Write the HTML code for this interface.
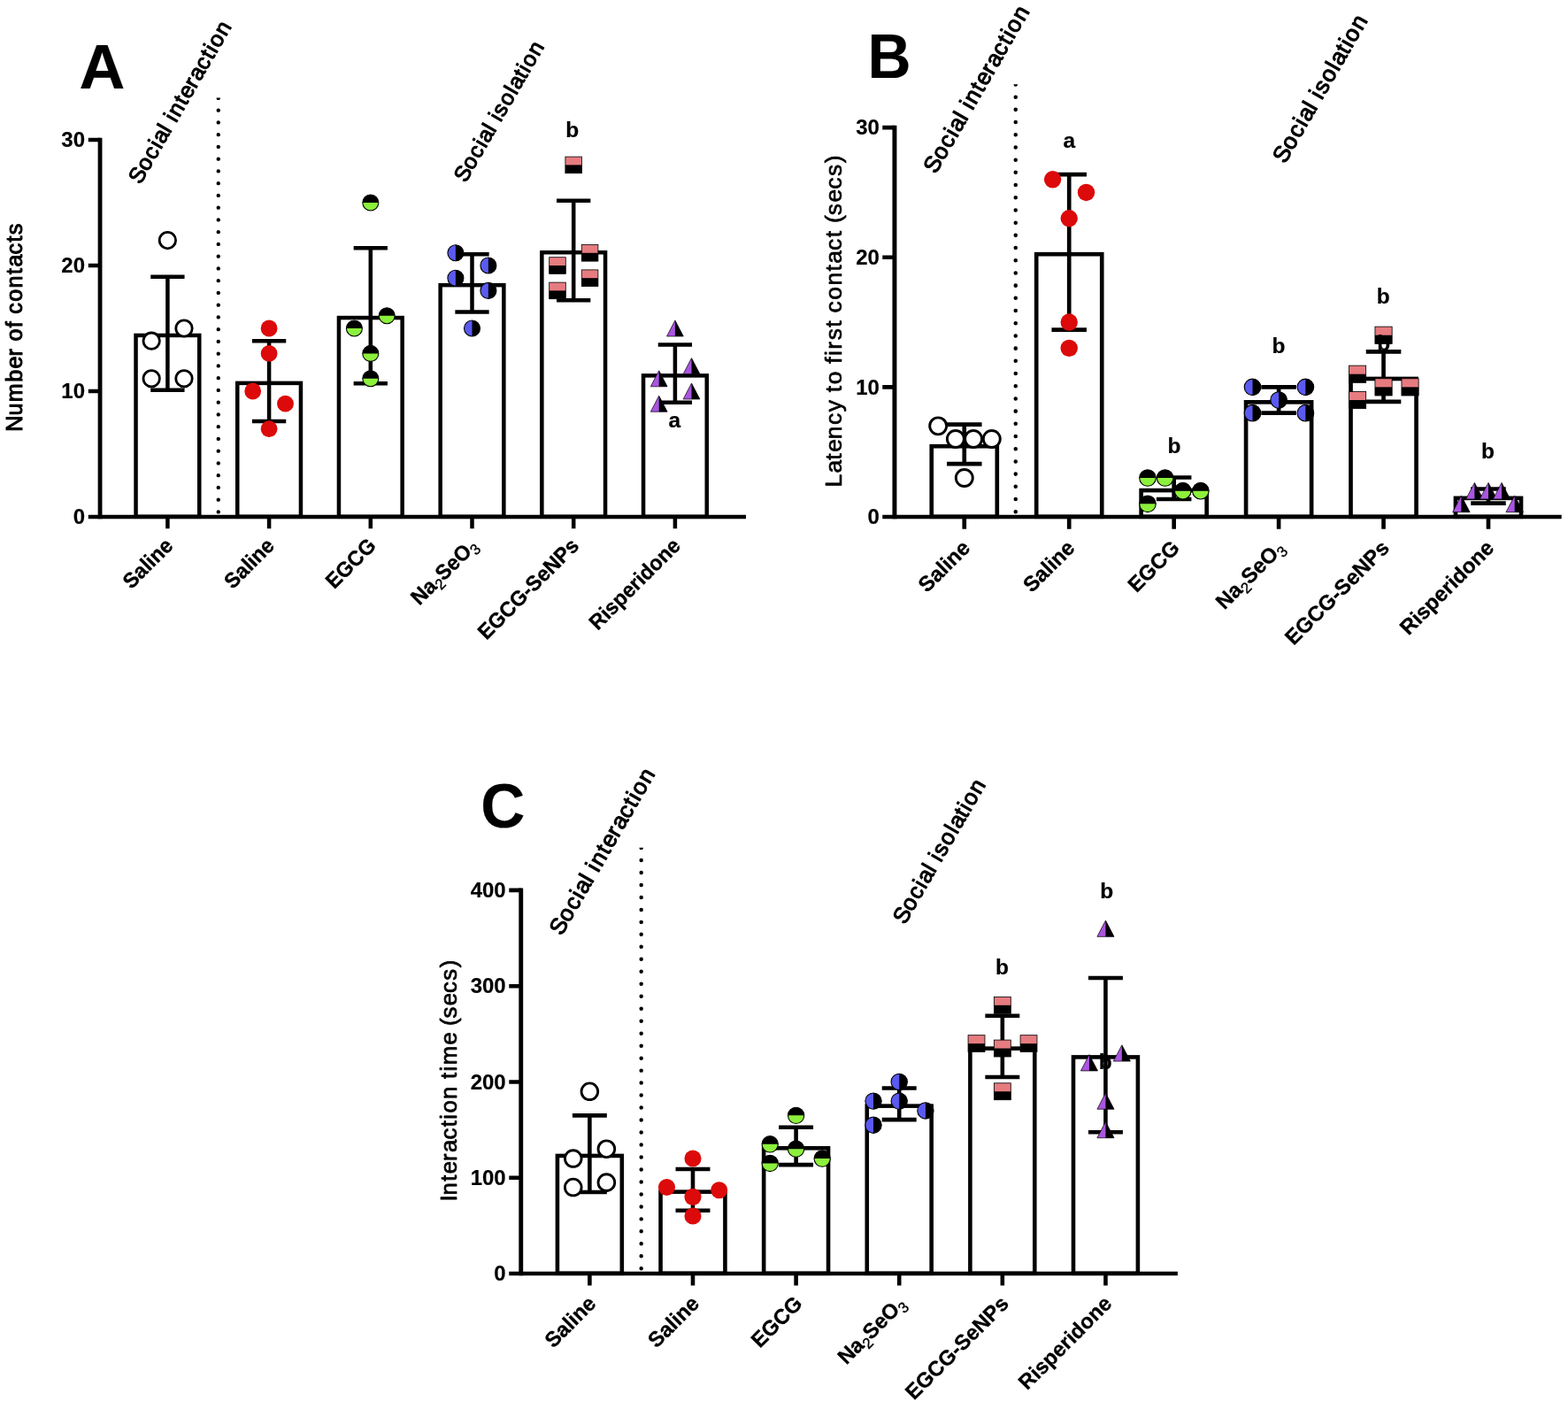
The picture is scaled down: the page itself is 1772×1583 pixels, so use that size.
<!DOCTYPE html>
<html lang="en"><head><meta charset="utf-8"><title>Figure</title>
<style>
html,body{margin:0;padding:0;background:#fff}
svg{display:block}
text{font-family:"Liberation Sans", Arial, Helvetica, sans-serif;fill:#000}
.b{font-weight:700;stroke:#000;stroke-width:0.2px}
.cat{stroke-width:0.35px}
.ttl{font-weight:400;stroke:#000;stroke-linejoin:round;font-kerning:none}
.sub{font-weight:400;font-size:17px}
</style></head>
<body>
<svg width="1772" height="1583" viewBox="0 0 1772 1583">
<defs><clipPath id="dc"><rect x="0" y="-473.4" width="300" height="480"/></clipPath></defs>
<rect width="1772" height="1583" fill="#fff"/>
<g transform="translate(113.2 584) scale(1)">
<path d="M133.55 -5.6V-476" stroke="#000" stroke-width="4.4" stroke-linecap="round" stroke-dasharray="0.01 13.74" clip-path="url(#dc)" fill="none"/>
<rect x="40.35" y="-205.07" width="71.7" height="204.87" fill="#fff" stroke="#000" stroke-width="4.5"/>
<rect x="155.05" y="-151.11" width="71.7" height="150.91" fill="#fff" stroke="#000" stroke-width="4.5"/>
<rect x="269.75" y="-224.95" width="71.7" height="224.75" fill="#fff" stroke="#000" stroke-width="4.5"/>
<rect x="384.45" y="-261.87" width="71.7" height="261.67" fill="#fff" stroke="#000" stroke-width="4.5"/>
<rect x="499.15" y="-298.79" width="71.7" height="298.59" fill="#fff" stroke="#000" stroke-width="4.5"/>
<rect x="613.85" y="-159.63" width="71.7" height="159.43" fill="#fff" stroke="#000" stroke-width="4.5"/>
<path d="M-13.4 0H729.8" stroke="#000" stroke-width="4.5" fill="none"/>
<path d="M-0.15 2.25V-428.25" stroke="#000" stroke-width="4.8" fill="none"/>
<path d="M-13.4 -142H0M-13.4 -284H0M-13.4 -426H0M76.2 0V13.3M190.9 0V13.3M305.6 0V13.3M420.3 0V13.3M535 0V13.3M649.7 0V13.3" stroke="#000" stroke-width="4.5" fill="none"/>
<path d="M76.2 -271.3V-143.34M57.05 -271.3h38.3M57.05 -143.34h38.3" stroke="#000" stroke-width="4.5" fill="none"/>
<path d="M190.9 -198.71V-108.01M171.75 -198.71h38.3M171.75 -108.01h38.3" stroke="#000" stroke-width="4.5" fill="none"/>
<path d="M305.6 -303.67V-150.73M286.45 -303.67h38.3M286.45 -150.73h38.3" stroke="#000" stroke-width="4.5" fill="none"/>
<path d="M420.3 -296.81V-231.43M401.15 -296.81h38.3M401.15 -231.43h38.3" stroke="#000" stroke-width="4.5" fill="none"/>
<path d="M535 -357.3V-244.78M515.85 -357.3h38.3M515.85 -244.78h38.3" stroke="#000" stroke-width="4.5" fill="none"/>
<path d="M649.7 -194.57V-129.19M630.55 -194.57h38.3M630.55 -129.19h38.3" stroke="#000" stroke-width="4.5" fill="none"/>
<circle cx="76.2" cy="-312.4" r="9.2" fill="#fff" stroke="#000" stroke-width="2.8"/>
<circle cx="94.8" cy="-213" r="9.2" fill="#fff" stroke="#000" stroke-width="2.8"/>
<circle cx="58" cy="-198.8" r="9.2" fill="#fff" stroke="#000" stroke-width="2.8"/>
<circle cx="58" cy="-156.2" r="9.2" fill="#fff" stroke="#000" stroke-width="2.8"/>
<circle cx="94.8" cy="-156.2" r="9.2" fill="#fff" stroke="#000" stroke-width="2.8"/>
<circle cx="190.9" cy="-213" r="9.4" fill="#dc0a0a"/>
<circle cx="190.9" cy="-184.6" r="9.4" fill="#dc0a0a"/>
<circle cx="172.5" cy="-142" r="9.4" fill="#dc0a0a"/>
<circle cx="209.3" cy="-127.8" r="9.4" fill="#dc0a0a"/>
<circle cx="190.9" cy="-99.4" r="9.4" fill="#dc0a0a"/>
<circle cx="305.6" cy="-355" r="9" fill="#8cf03c" stroke="#000" stroke-width="1.1"/><path d="M296.6 -355A9 9 0 0 1 314.6 -355Z" fill="#000"/>
<circle cx="324" cy="-227.2" r="9" fill="#8cf03c" stroke="#000" stroke-width="1.1"/><path d="M315 -227.2A9 9 0 0 1 333 -227.2Z" fill="#000"/>
<circle cx="287.2" cy="-213" r="9" fill="#8cf03c" stroke="#000" stroke-width="1.1"/><path d="M278.2 -213A9 9 0 0 1 296.2 -213Z" fill="#000"/>
<circle cx="305.6" cy="-184.6" r="9" fill="#8cf03c" stroke="#000" stroke-width="1.1"/><path d="M296.6 -184.6A9 9 0 0 1 314.6 -184.6Z" fill="#000"/>
<circle cx="305.6" cy="-156.2" r="9" fill="#8cf03c" stroke="#000" stroke-width="1.1"/><path d="M296.6 -156.2A9 9 0 0 1 314.6 -156.2Z" fill="#000"/>
<circle cx="401.7" cy="-298.2" r="9" fill="#5a5af0" stroke="#000" stroke-width="1.1"/><path d="M401.7 -307.2A9 9 0 0 1 401.7 -289.2Z" fill="#000"/>
<circle cx="438.7" cy="-284" r="9" fill="#5a5af0" stroke="#000" stroke-width="1.1"/><path d="M438.7 -293A9 9 0 0 1 438.7 -275Z" fill="#000"/>
<circle cx="401.7" cy="-269.8" r="9" fill="#5a5af0" stroke="#000" stroke-width="1.1"/><path d="M401.7 -278.8A9 9 0 0 1 401.7 -260.8Z" fill="#000"/>
<circle cx="438.7" cy="-255.6" r="9" fill="#5a5af0" stroke="#000" stroke-width="1.1"/><path d="M438.7 -264.6A9 9 0 0 1 438.7 -246.6Z" fill="#000"/>
<circle cx="420.3" cy="-213" r="9" fill="#5a5af0" stroke="#000" stroke-width="1.1"/><path d="M420.3 -222A9 9 0 0 1 420.3 -204Z" fill="#000"/>
<rect x="525.7" y="-406.9" width="18.6" height="18.6" fill="#e67c80" stroke="#000" stroke-width="0.8"/><rect x="525.7" y="-397.6" width="18.6" height="9.3" fill="#000"/>
<rect x="544.1" y="-307.5" width="18.6" height="18.6" fill="#e67c80" stroke="#000" stroke-width="0.8"/><rect x="544.1" y="-298.2" width="18.6" height="9.3" fill="#000"/>
<rect x="507.5" y="-293.3" width="18.6" height="18.6" fill="#e67c80" stroke="#000" stroke-width="0.8"/><rect x="507.5" y="-284" width="18.6" height="9.3" fill="#000"/>
<rect x="544.1" y="-279.1" width="18.6" height="18.6" fill="#e67c80" stroke="#000" stroke-width="0.8"/><rect x="544.1" y="-269.8" width="18.6" height="9.3" fill="#000"/>
<rect x="507.5" y="-264.9" width="18.6" height="18.6" fill="#e67c80" stroke="#000" stroke-width="0.8"/><rect x="507.5" y="-255.6" width="18.6" height="9.3" fill="#000"/>
<path d="M649.7 -222L659.1 -204L640.3 -204Z" fill="#aa55e0" stroke="#000" stroke-width="0.7" stroke-linejoin="miter"/><path d="M649.7 -222L659.1 -204L649.7 -204Z" fill="#000"/>
<path d="M668.3 -179.4L677.7 -161.4L658.9 -161.4Z" fill="#aa55e0" stroke="#000" stroke-width="0.7" stroke-linejoin="miter"/><path d="M668.3 -179.4L677.7 -161.4L668.3 -161.4Z" fill="#000"/>
<path d="M631.5 -165.2L640.9 -147.2L622.1 -147.2Z" fill="#aa55e0" stroke="#000" stroke-width="0.7" stroke-linejoin="miter"/><path d="M631.5 -165.2L640.9 -147.2L631.5 -147.2Z" fill="#000"/>
<path d="M668.3 -151L677.7 -133L658.9 -133Z" fill="#aa55e0" stroke="#000" stroke-width="0.7" stroke-linejoin="miter"/><path d="M668.3 -151L677.7 -133L668.3 -133Z" fill="#000"/>
<path d="M631.5 -136.8L640.9 -118.8L622.1 -118.8Z" fill="#aa55e0" stroke="#000" stroke-width="0.7" stroke-linejoin="miter"/><path d="M631.5 -136.8L640.9 -118.8L631.5 -118.8Z" fill="#000"/>
</g>
<text class="b" transform="translate(96 592.3) scale(0.975 1)" font-size="24.6" text-anchor="end">0</text>
<text class="b" transform="translate(96 450.3) scale(0.975 1)" font-size="24.6" text-anchor="end">10</text>
<text class="b" transform="translate(96 308.3) scale(0.975 1)" font-size="24.6" text-anchor="end">20</text>
<text class="b" transform="translate(96 166.3) scale(0.975 1)" font-size="24.6" text-anchor="end">30</text>
<text class="ttl" transform="translate(24.8 370.2) rotate(-90)" font-size="25.2" text-anchor="middle" stroke-width="1" dx="0 0 1.38 1.42 1.38 0 1.42 0 1.38 1.39 0 1.42 1.38 1.38 1.39 0 1.42 1.39">Number of contacts</text>
<text class="b cat" transform="translate(196.8 618) rotate(-45) scale(0.968 1)" font-size="24" text-anchor="end">Saline</text>
<text class="b cat" transform="translate(311.5 618) rotate(-45) scale(0.968 1)" font-size="24" text-anchor="end">Saline</text>
<text class="b cat" transform="translate(426.2 618) rotate(-45) scale(0.968 1)" font-size="24" text-anchor="end">EGCG</text>
<text class="b cat" transform="translate(540.9 618) rotate(-45) scale(0.968 1)" font-size="24" text-anchor="end">Na<tspan class="sub" dy="5">2</tspan><tspan dy="-5">SeO</tspan><tspan class="sub" dy="5">3</tspan></text>
<text class="b cat" transform="translate(655.6 618) rotate(-45) scale(0.968 1)" font-size="24" text-anchor="end">EGCG-SeNPs</text>
<text class="b cat" transform="translate(770.3 618) rotate(-45) scale(0.968 1)" font-size="24" text-anchor="end">Risperidone</text>
<text class="ttl" transform="translate(158.7 209.3) rotate(-60)" font-size="25.0" stroke-width="1.1" dx="0 0 1.37 1.4 1.39 0 1.39 0 1.39 1.37 1.38 0 1.4 0 1.4 1.38 1.39 1.37">Social interaction</text>
<text class="ttl" transform="translate(526.2 207.3) rotate(-60)" font-size="24.5" stroke-width="1.1" dx="0 0 1.34 1.38 1.36 0 1.36 0 1.36 1.38 1.34 1.36 0 1.35 1.36 1.34">Social isolation</text>
<text class="b" x="646.7" y="154.8" font-size="24.5" text-anchor="middle">b</text>
<text class="b" x="762.4" y="483" font-size="24.5" text-anchor="middle">a</text>
<text class="b" x="89.5" y="99.8" font-size="70" textLength="51.8" lengthAdjust="spacingAndGlyphs">A</text>
<g transform="translate(1011.1 584) scale(1.0326)">
<path d="M132.35 -5.6V-476" stroke="#000" stroke-width="4.4" stroke-linecap="round" stroke-dasharray="0.01 13.74" clip-path="url(#dc)" fill="none"/>
<rect x="40.35" y="-77.27" width="71.7" height="77.07" fill="#fff" stroke="#000" stroke-width="4.5"/>
<rect x="155.05" y="-287.43" width="71.7" height="287.23" fill="#fff" stroke="#000" stroke-width="4.5"/>
<rect x="269.75" y="-28.99" width="71.7" height="28.79" fill="#fff" stroke="#000" stroke-width="4.5"/>
<rect x="384.45" y="-125.55" width="71.7" height="125.35" fill="#fff" stroke="#000" stroke-width="4.5"/>
<rect x="499.15" y="-151.11" width="71.7" height="150.91" fill="#fff" stroke="#000" stroke-width="4.5"/>
<rect x="613.85" y="-20.47" width="71.7" height="20.27" fill="#fff" stroke="#000" stroke-width="4.5"/>
<path d="M-13.4 0H729.8" stroke="#000" stroke-width="4.5" fill="none"/>
<path d="M-0.15 2.25V-428.25" stroke="#000" stroke-width="4.8" fill="none"/>
<path d="M-13.4 -142H0M-13.4 -284H0M-13.4 -426H0M76.2 0V13.3M190.9 0V13.3M305.6 0V13.3M420.3 0V13.3M535 0V13.3M649.7 0V13.3" stroke="#000" stroke-width="4.5" fill="none"/>
<path d="M76.2 -101.06V-57.98M57.05 -101.06h38.3M57.05 -57.98h38.3" stroke="#000" stroke-width="4.5" fill="none"/>
<path d="M190.9 -374.64V-204.72M171.75 -374.64h38.3M171.75 -204.72h38.3" stroke="#000" stroke-width="4.5" fill="none"/>
<path d="M305.6 -43.12V-19.36M286.45 -43.12h38.3M286.45 -19.36h38.3" stroke="#000" stroke-width="4.5" fill="none"/>
<path d="M420.3 -142V-113.6M401.15 -142h38.3M401.15 -113.6h38.3" stroke="#000" stroke-width="4.5" fill="none"/>
<path d="M535 -180.67V-126.05M515.85 -180.67h38.3M515.85 -126.05h38.3" stroke="#000" stroke-width="4.5" fill="none"/>
<path d="M649.7 -30.5V-14.94M630.55 -30.5h38.3M630.55 -14.94h38.3" stroke="#000" stroke-width="4.5" fill="none"/>
<circle cx="47.53" cy="-99.4" r="9.2" fill="#fff" stroke="#000" stroke-width="2.8"/>
<circle cx="66.61" cy="-85.2" r="9.2" fill="#fff" stroke="#000" stroke-width="2.8"/>
<circle cx="86.17" cy="-85.2" r="9.2" fill="#fff" stroke="#000" stroke-width="2.8"/>
<circle cx="106.22" cy="-85.2" r="9.2" fill="#fff" stroke="#000" stroke-width="2.8"/>
<circle cx="76.2" cy="-42.6" r="9.2" fill="#fff" stroke="#000" stroke-width="2.8"/>
<circle cx="172.89" cy="-369.2" r="9.4" fill="#dc0a0a"/>
<circle cx="209.59" cy="-355" r="9.4" fill="#dc0a0a"/>
<circle cx="190.9" cy="-326.6" r="9.4" fill="#dc0a0a"/>
<circle cx="190.9" cy="-213" r="9.4" fill="#dc0a0a"/>
<circle cx="190.9" cy="-184.6" r="9.4" fill="#dc0a0a"/>
<circle cx="276.84" cy="-42.6" r="9" fill="#8cf03c" stroke="#000" stroke-width="1.1"/><path d="M267.84 -42.6A9 9 0 0 1 285.84 -42.6Z" fill="#000"/>
<circle cx="295.92" cy="-42.6" r="9" fill="#8cf03c" stroke="#000" stroke-width="1.1"/><path d="M286.92 -42.6A9 9 0 0 1 304.92 -42.6Z" fill="#000"/>
<circle cx="315.38" cy="-28.4" r="9" fill="#8cf03c" stroke="#000" stroke-width="1.1"/><path d="M306.38 -28.4A9 9 0 0 1 324.38 -28.4Z" fill="#000"/>
<circle cx="334.85" cy="-28.4" r="9" fill="#8cf03c" stroke="#000" stroke-width="1.1"/><path d="M325.85 -28.4A9 9 0 0 1 343.85 -28.4Z" fill="#000"/>
<circle cx="276.84" cy="-14.2" r="9" fill="#8cf03c" stroke="#000" stroke-width="1.1"/><path d="M267.84 -14.2A9 9 0 0 1 285.84 -14.2Z" fill="#000"/>
<circle cx="391.63" cy="-142" r="9" fill="#5a5af0" stroke="#000" stroke-width="1.1"/><path d="M391.63 -151A9 9 0 0 1 391.63 -133Z" fill="#000"/>
<circle cx="449.64" cy="-142" r="9" fill="#5a5af0" stroke="#000" stroke-width="1.1"/><path d="M449.64 -151A9 9 0 0 1 449.64 -133Z" fill="#000"/>
<circle cx="420.3" cy="-127.8" r="9" fill="#5a5af0" stroke="#000" stroke-width="1.1"/><path d="M420.3 -136.8A9 9 0 0 1 420.3 -118.8Z" fill="#000"/>
<circle cx="391.63" cy="-113.6" r="9" fill="#5a5af0" stroke="#000" stroke-width="1.1"/><path d="M391.63 -122.6A9 9 0 0 1 391.63 -104.6Z" fill="#000"/>
<circle cx="449.64" cy="-113.6" r="9" fill="#5a5af0" stroke="#000" stroke-width="1.1"/><path d="M449.64 -122.6A9 9 0 0 1 449.64 -104.6Z" fill="#000"/>
<rect x="525.7" y="-208.1" width="18.6" height="18.6" fill="#e67c80" stroke="#000" stroke-width="0.8"/><rect x="525.7" y="-198.8" width="18.6" height="9.3" fill="#000"/>
<rect x="497.13" y="-165.5" width="18.6" height="18.6" fill="#e67c80" stroke="#000" stroke-width="0.8"/><rect x="497.13" y="-156.2" width="18.6" height="9.3" fill="#000"/>
<rect x="525.7" y="-151.3" width="18.6" height="18.6" fill="#e67c80" stroke="#000" stroke-width="0.8"/><rect x="525.7" y="-142" width="18.6" height="9.3" fill="#000"/>
<rect x="554.75" y="-151.3" width="18.6" height="18.6" fill="#e67c80" stroke="#000" stroke-width="0.8"/><rect x="554.75" y="-142" width="18.6" height="9.3" fill="#000"/>
<rect x="497.13" y="-137.1" width="18.6" height="18.6" fill="#e67c80" stroke="#000" stroke-width="0.8"/><rect x="497.13" y="-127.8" width="18.6" height="9.3" fill="#000"/>
<path d="M634.59 -37.4L643.99 -19.4L625.19 -19.4Z" fill="#aa55e0" stroke="#000" stroke-width="0.7" stroke-linejoin="miter"/><path d="M634.59 -37.4L643.99 -19.4L634.59 -19.4Z" fill="#000"/>
<path d="M649.7 -37.4L659.1 -19.4L640.3 -19.4Z" fill="#aa55e0" stroke="#000" stroke-width="0.7" stroke-linejoin="miter"/><path d="M649.7 -37.4L659.1 -19.4L649.7 -19.4Z" fill="#000"/>
<path d="M664.23 -37.4L673.63 -19.4L654.83 -19.4Z" fill="#aa55e0" stroke="#000" stroke-width="0.7" stroke-linejoin="miter"/><path d="M664.23 -37.4L673.63 -19.4L664.23 -19.4Z" fill="#000"/>
<path d="M620.07 -23.2L629.47 -5.2L610.67 -5.2Z" fill="#aa55e0" stroke="#000" stroke-width="0.7" stroke-linejoin="miter"/><path d="M620.07 -23.2L629.47 -5.2L620.07 -5.2Z" fill="#000"/>
<path d="M678.46 -23.2L687.86 -5.2L669.06 -5.2Z" fill="#aa55e0" stroke="#000" stroke-width="0.7" stroke-linejoin="miter"/><path d="M678.46 -23.2L687.86 -5.2L678.46 -5.2Z" fill="#000"/>
</g>
<text class="b" transform="translate(993.9 592.3) scale(0.975 1)" font-size="24.6" text-anchor="end">0</text>
<text class="b" transform="translate(993.9 445.67) scale(0.975 1)" font-size="24.6" text-anchor="end">10</text>
<text class="b" transform="translate(993.9 299.04) scale(0.975 1)" font-size="24.6" text-anchor="end">20</text>
<text class="b" transform="translate(993.9 152.41) scale(0.975 1)" font-size="24.6" text-anchor="end">30</text>
<text class="ttl" transform="translate(951.1 363.06) rotate(-90)" font-size="26.45" text-anchor="middle" stroke-width="0.7" dx="0 1.45 0 1.46 0 1.45 1.49 1.49 0 1.46 1.45 0 1.46 1.47 1.49 1.49 1.46 0 1.49 1.45 1.45 1.46 0 1.49 1.46 0 0 1.49 0 1.49 1.49">Latency to first contact (secs)</text>
<text class="b cat" transform="translate(1097.58 620.6) rotate(-45) scale(1.0 1)" font-size="24" text-anchor="end">Saline</text>
<text class="b cat" transform="translate(1216.02 620.6) rotate(-45) scale(1.0 1)" font-size="24" text-anchor="end">Saline</text>
<text class="b cat" transform="translate(1334.46 620.6) rotate(-45) scale(1.0 1)" font-size="24" text-anchor="end">EGCG</text>
<text class="b cat" transform="translate(1452.9 620.6) rotate(-45) scale(1.0 1)" font-size="24" text-anchor="end">Na<tspan class="sub" dy="5">2</tspan><tspan dy="-5">SeO</tspan><tspan class="sub" dy="5">3</tspan></text>
<text class="b cat" transform="translate(1571.34 620.6) rotate(-45) scale(1.0 1)" font-size="24" text-anchor="end">EGCG-SeNPs</text>
<text class="b cat" transform="translate(1689.78 620.6) rotate(-45) scale(1.0 1)" font-size="24" text-anchor="end">Risperidone</text>
<text class="ttl" transform="translate(1057.6 197.2) rotate(-60)" font-size="25.7" stroke-width="1.1" dx="0 0 1.41 1.44 1.43 0 1.43 0 1.43 1.41 1.42 0 1.44 0 1.44 1.42 1.43 1.41">Social interaction</text>
<text class="ttl" transform="translate(1452.2 185.8) rotate(-60)" font-size="25.8" stroke-width="1.1" dx="0 0 1.41 1.45 1.44 0 1.44 0 1.44 1.45 1.41 1.44 0 1.42 1.44 1.41">Social isolation</text>
<text class="b" x="1208.2" y="166.5" font-size="24.5" text-anchor="middle">a</text>
<text class="b" x="1326.9" y="511.9" font-size="24.5" text-anchor="middle">b</text>
<text class="b" x="1445" y="398.7" font-size="24.5" text-anchor="middle">b</text>
<text class="b" x="1563.2" y="342.6" font-size="24.5" text-anchor="middle">b</text>
<text class="b" x="1563.8" y="395.5" font-size="24.5" text-anchor="middle">b</text>
<text class="b" x="1681.6" y="518.2" font-size="24.5" text-anchor="middle">b</text>
<text class="b" x="980.4" y="88" font-size="70" textLength="49" lengthAdjust="spacingAndGlyphs">B</text>
<g transform="translate(588.9 1439) scale(1.0167)">
<path d="M133.55 -5.6V-476" stroke="#000" stroke-width="4.4" stroke-linecap="round" stroke-dasharray="0.01 13.74" clip-path="url(#dc)" fill="none"/>
<rect x="40.35" y="-130.88" width="71.7" height="130.68" fill="#fff" stroke="#000" stroke-width="4.5"/>
<rect x="155.05" y="-90.83" width="71.7" height="90.63" fill="#fff" stroke="#000" stroke-width="4.5"/>
<rect x="269.75" y="-139.39" width="71.7" height="139.19" fill="#fff" stroke="#000" stroke-width="4.5"/>
<rect x="384.45" y="-186.25" width="71.7" height="186.06" fill="#fff" stroke="#000" stroke-width="4.5"/>
<rect x="499.15" y="-250.16" width="71.7" height="249.96" fill="#fff" stroke="#000" stroke-width="4.5"/>
<rect x="613.85" y="-240.57" width="71.7" height="240.37" fill="#fff" stroke="#000" stroke-width="4.5"/>
<path d="M-13.4 0H729.8" stroke="#000" stroke-width="4.5" fill="none"/>
<path d="M-0.15 2.25V-428.25" stroke="#000" stroke-width="4.8" fill="none"/>
<path d="M-13.4 -106.5H0M-13.4 -213H0M-13.4 -319.5H0M-13.4 -426H0M76.2 0V13.3M190.9 0V13.3M305.6 0V13.3M420.3 0V13.3M535 0V13.3M649.7 0V13.3" stroke="#000" stroke-width="4.5" fill="none"/>
<path d="M76.2 -175.72V-90.52M57.05 -175.72h38.3M57.05 -90.52h38.3" stroke="#000" stroke-width="4.5" fill="none"/>
<path d="M190.9 -116.14V-70.02M171.75 -116.14h38.3M171.75 -70.02h38.3" stroke="#000" stroke-width="4.5" fill="none"/>
<path d="M305.6 -162.47V-120.82M286.45 -162.47h38.3M286.45 -120.82h38.3" stroke="#000" stroke-width="4.5" fill="none"/>
<path d="M420.3 -206V-171.01M401.15 -206h38.3M401.15 -171.01h38.3" stroke="#000" stroke-width="4.5" fill="none"/>
<path d="M535 -286.42V-218.39M515.85 -286.42h38.3M515.85 -218.39h38.3" stroke="#000" stroke-width="4.5" fill="none"/>
<path d="M649.7 -328.48V-157.16M630.55 -328.48h38.3M630.55 -157.16h38.3" stroke="#000" stroke-width="4.5" fill="none"/>
<circle cx="76.2" cy="-202.35" r="9.2" fill="#fff" stroke="#000" stroke-width="2.8"/>
<circle cx="94.89" cy="-138.45" r="9.2" fill="#fff" stroke="#000" stroke-width="2.8"/>
<circle cx="57.91" cy="-127.8" r="9.2" fill="#fff" stroke="#000" stroke-width="2.8"/>
<circle cx="94.89" cy="-101.17" r="9.2" fill="#fff" stroke="#000" stroke-width="2.8"/>
<circle cx="57.91" cy="-95.85" r="9.2" fill="#fff" stroke="#000" stroke-width="2.8"/>
<circle cx="190.9" cy="-127.8" r="9.4" fill="#dc0a0a"/>
<circle cx="161.88" cy="-95.85" r="9.4" fill="#dc0a0a"/>
<circle cx="220.11" cy="-92.66" r="9.4" fill="#dc0a0a"/>
<circle cx="190.9" cy="-85.2" r="9.4" fill="#dc0a0a"/>
<circle cx="190.9" cy="-63.9" r="9.4" fill="#dc0a0a"/>
<circle cx="305.6" cy="-175.72" r="9" fill="#8cf03c" stroke="#000" stroke-width="1.1"/><path d="M296.6 -175.72A9 9 0 0 1 314.6 -175.72Z" fill="#000"/>
<circle cx="276.68" cy="-143.78" r="9" fill="#8cf03c" stroke="#000" stroke-width="1.1"/><path d="M267.68 -143.78A9 9 0 0 1 285.68 -143.78Z" fill="#000"/>
<circle cx="305.6" cy="-138.45" r="9" fill="#8cf03c" stroke="#000" stroke-width="1.1"/><path d="M296.6 -138.45A9 9 0 0 1 314.6 -138.45Z" fill="#000"/>
<circle cx="334.71" cy="-127.8" r="9" fill="#8cf03c" stroke="#000" stroke-width="1.1"/><path d="M325.71 -127.8A9 9 0 0 1 343.71 -127.8Z" fill="#000"/>
<circle cx="276.68" cy="-122.47" r="9" fill="#8cf03c" stroke="#000" stroke-width="1.1"/><path d="M267.68 -122.47A9 9 0 0 1 285.68 -122.47Z" fill="#000"/>
<circle cx="420.3" cy="-213" r="9" fill="#5a5af0" stroke="#000" stroke-width="1.1"/><path d="M420.3 -222A9 9 0 0 1 420.3 -204Z" fill="#000"/>
<circle cx="391.58" cy="-191.7" r="9" fill="#5a5af0" stroke="#000" stroke-width="1.1"/><path d="M391.58 -200.7A9 9 0 0 1 391.58 -182.7Z" fill="#000"/>
<circle cx="420.3" cy="-191.7" r="9" fill="#5a5af0" stroke="#000" stroke-width="1.1"/><path d="M420.3 -200.7A9 9 0 0 1 420.3 -182.7Z" fill="#000"/>
<circle cx="449.51" cy="-181.05" r="9" fill="#5a5af0" stroke="#000" stroke-width="1.1"/><path d="M449.51 -190.05A9 9 0 0 1 449.51 -172.05Z" fill="#000"/>
<circle cx="391.58" cy="-165.07" r="9" fill="#5a5af0" stroke="#000" stroke-width="1.1"/><path d="M391.58 -174.07A9 9 0 0 1 391.58 -156.07Z" fill="#000"/>
<rect x="525.7" y="-307.5" width="18.6" height="18.6" fill="#e67c80" stroke="#000" stroke-width="0.8"/><rect x="525.7" y="-298.2" width="18.6" height="9.3" fill="#000"/>
<rect x="496.88" y="-264.9" width="18.6" height="18.6" fill="#e67c80" stroke="#000" stroke-width="0.8"/><rect x="496.88" y="-255.6" width="18.6" height="9.3" fill="#000"/>
<rect x="554.91" y="-264.9" width="18.6" height="18.6" fill="#e67c80" stroke="#000" stroke-width="0.8"/><rect x="554.91" y="-255.6" width="18.6" height="9.3" fill="#000"/>
<rect x="525.7" y="-259.57" width="18.6" height="18.6" fill="#e67c80" stroke="#000" stroke-width="0.8"/><rect x="525.7" y="-250.27" width="18.6" height="9.3" fill="#000"/>
<rect x="525.7" y="-211.65" width="18.6" height="18.6" fill="#e67c80" stroke="#000" stroke-width="0.8"/><rect x="525.7" y="-202.35" width="18.6" height="9.3" fill="#000"/>
<path d="M649.7 -392.4L659.1 -374.4L640.3 -374.4Z" fill="#aa55e0" stroke="#000" stroke-width="0.7" stroke-linejoin="miter"/><path d="M649.7 -392.4L659.1 -374.4L649.7 -374.4Z" fill="#000"/>
<path d="M667.8 -253.95L677.2 -235.95L658.4 -235.95Z" fill="#aa55e0" stroke="#000" stroke-width="0.7" stroke-linejoin="miter"/><path d="M667.8 -253.95L677.2 -235.95L667.8 -235.95Z" fill="#000"/>
<path d="M631.5 -243.3L640.9 -225.3L622.1 -225.3Z" fill="#aa55e0" stroke="#000" stroke-width="0.7" stroke-linejoin="miter"/><path d="M631.5 -243.3L640.9 -225.3L631.5 -225.3Z" fill="#000"/>
<path d="M649.7 -200.7L659.1 -182.7L640.3 -182.7Z" fill="#aa55e0" stroke="#000" stroke-width="0.7" stroke-linejoin="miter"/><path d="M649.7 -200.7L659.1 -182.7L649.7 -182.7Z" fill="#000"/>
<path d="M649.7 -168.75L659.1 -150.75L640.3 -150.75Z" fill="#aa55e0" stroke="#000" stroke-width="0.7" stroke-linejoin="miter"/><path d="M649.7 -168.75L659.1 -150.75L649.7 -150.75Z" fill="#000"/>
</g>
<text class="b" transform="translate(571.7 1447.3) scale(0.975 1)" font-size="24.6" text-anchor="end">0</text>
<text class="b" transform="translate(571.7 1339.02) scale(0.975 1)" font-size="24.6" text-anchor="end">100</text>
<text class="b" transform="translate(571.7 1230.74) scale(0.975 1)" font-size="24.6" text-anchor="end">200</text>
<text class="b" transform="translate(571.7 1122.46) scale(0.975 1)" font-size="24.6" text-anchor="end">300</text>
<text class="b" transform="translate(571.7 1014.19) scale(0.975 1)" font-size="24.6" text-anchor="end">400</text>
<text class="ttl" transform="translate(516.4 1221.19) rotate(-90)" font-size="25.7" text-anchor="middle" stroke-width="0.8" dx="0 0 1.41 1.42 0 1.44 0 1.44 1.42 1.43 1.41 1.41 0 1.42 1.43 1.44 0 0 0 1.44 0 1.44 1.44">Interaction time (secs)</text>
<text class="b cat" transform="translate(674.87 1474.5) rotate(-45) scale(0.99 1)" font-size="24" text-anchor="end">Saline</text>
<text class="b cat" transform="translate(791.49 1474.5) rotate(-45) scale(0.99 1)" font-size="24" text-anchor="end">Saline</text>
<text class="b cat" transform="translate(908.1 1474.5) rotate(-45) scale(0.99 1)" font-size="24" text-anchor="end">EGCG</text>
<text class="b cat" transform="translate(1024.72 1474.5) rotate(-45) scale(0.99 1)" font-size="24" text-anchor="end">Na<tspan class="sub" dy="5">2</tspan><tspan dy="-5">SeO</tspan><tspan class="sub" dy="5">3</tspan></text>
<text class="b cat" transform="translate(1141.33 1474.5) rotate(-45) scale(0.99 1)" font-size="24" text-anchor="end">EGCG-SeNPs</text>
<text class="b cat" transform="translate(1257.95 1474.5) rotate(-45) scale(0.99 1)" font-size="24" text-anchor="end">Risperidone</text>
<text class="ttl" transform="translate(634.8 1058.1) rotate(-60)" font-size="25.6" stroke-width="1.1" dx="0 0 1.4 1.44 1.43 0 1.43 0 1.43 1.4 1.41 0 1.44 0 1.44 1.41 1.43 1.4">Social interaction</text>
<text class="ttl" transform="translate(1022.7 1045.5) rotate(-60)" font-size="25.2" stroke-width="1.1" dx="0 0 1.38 1.42 1.4 0 1.4 0 1.4 1.42 1.38 1.4 0 1.39 1.4 1.38">Social isolation</text>
<text class="b" x="1132.5" y="1101.3" font-size="24.5" text-anchor="middle">b</text>
<text class="b" x="1250.8" y="1014.8" font-size="24.5" text-anchor="middle">b</text>
<text class="b" x="1249.3" y="1208.1" font-size="24.5" text-anchor="middle">b</text>
<text class="b" x="543.2" y="935" font-size="70" textLength="50" lengthAdjust="spacingAndGlyphs">C</text>
</svg>
</body></html>
